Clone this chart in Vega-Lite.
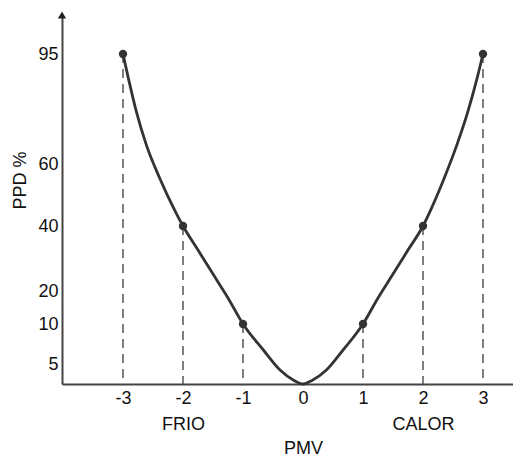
{
  "$schema": "https://vega.github.io/schema/vega-lite/v6.json",
  "width": 451,
  "height": 369,
  "autosize": {"type": "none"},
  "padding": {"left": 62, "top": 15, "right": 0, "bottom": 73},
  "config": {
    "view": {"stroke": null},
    "font": "Liberation Sans",
    "axis": {
      "grid": false,
      "ticks": false,
      "domainColor": "#444",
      "domainWidth": 2,
      "labelFontSize": 18,
      "labelColor": "#111",
      "titleFontSize": 18,
      "titleFontWeight": "normal",
      "titleColor": "#111",
      "labelOverlap": false,
      "labelFlush": false
    }
  },
  "datasets": {
    "curve": [
      {"pmv": -3, "ppd": 95},
      {"pmv": -2.912, "ppd": 87.4},
      {"pmv": -2.775, "ppd": 76.5},
      {"pmv": -2.61, "ppd": 66.0},
      {"pmv": -2.39, "ppd": 55.5},
      {"pmv": -2.123, "ppd": 44.5},
      {"pmv": -2, "ppd": 40},
      {"pmv": -1.75, "ppd": 32.6},
      {"pmv": -1.5, "ppd": 25.2},
      {"pmv": -1.25, "ppd": 17.9},
      {"pmv": -1, "ppd": 10},
      {"pmv": -0.661, "ppd": 6.75},
      {"pmv": -0.383, "ppd": 3.5},
      {"pmv": -0.15, "ppd": 0.9},
      {"pmv": 0, "ppd": 0},
      {"pmv": 0.15, "ppd": 0.9},
      {"pmv": 0.39, "ppd": 3.5},
      {"pmv": 0.668, "ppd": 6.75},
      {"pmv": 1, "ppd": 10},
      {"pmv": 1.25, "ppd": 17.9},
      {"pmv": 1.5, "ppd": 25.2},
      {"pmv": 1.75, "ppd": 32.6},
      {"pmv": 2, "ppd": 40},
      {"pmv": 2.112, "ppd": 44.5},
      {"pmv": 2.355, "ppd": 55.5},
      {"pmv": 2.563, "ppd": 66.0},
      {"pmv": 2.745, "ppd": 76.5},
      {"pmv": 2.903, "ppd": 87.4},
      {"pmv": 3, "ppd": 95}
    ],
    "marks": [
      {"pmv": -3, "ppd": 95},
      {"pmv": -2, "ppd": 40},
      {"pmv": -1, "ppd": 10},
      {"pmv": 1, "ppd": 10},
      {"pmv": 2, "ppd": 40},
      {"pmv": 3, "ppd": 95}
    ]
  },
  "layer": [
    {
      "data": {"name": "marks"},
      "mark": {"type": "rule", "stroke": "#555", "strokeWidth": 1.5, "strokeDash": [9, 6]},
      "encoding": {
        "x": {
          "field": "pmv", "type": "quantitative",
          "scale": {"domain": [-4.0167, 3.5], "nice": false, "zero": false},
          "axis": {
            "values": [-3, -2, -1, 0, 1, 2, 3],
            "title": "PMV",
            "labelExpr": "datum.value == -2 ? ['-2', 'FRIO'] : datum.value == 2 ? ['2', 'CALOR'] : (datum.value < 0 ? '-' : '') + abs(datum.value)",
            "labelLineHeight": 26,
            "labelPadding": 5,
            "titleX": 241,
            "titleY": 64,
            "titleAlign": "center",
            "titleBaseline": "middle"
          }
        },
        "y": {
          "field": "ppd", "type": "quantitative",
          "scale": {"domain": [0, 5, 10, 20, 40, 60, 95, 107.6], "range": [369, 349, 309, 276, 211, 149, 39, 0], "nice": false, "zero": false},
          "axis": {
            "values": [5, 10, 20, 40, 60, 95],
            "title": "PPD %",
            "labelPadding": 4,
            "titleAngle": -90,
            "titleX": -42,
            "titleY": 165,
            "titleAlign": "center",
            "titleBaseline": "middle"
          }
        },
        "y2": {"datum": 0}
      }
    },
    {
      "data": {"name": "curve"},
      "mark": {"type": "line", "interpolate": "monotone", "stroke": "#333", "strokeWidth": 2.8},
      "encoding": {
        "x": {"field": "pmv", "type": "quantitative"},
        "y": {"field": "ppd", "type": "quantitative"}
      }
    },
    {
      "data": {"name": "marks"},
      "mark": {"type": "point", "filled": true, "color": "#333", "size": 70, "opacity": 1},
      "encoding": {
        "x": {"field": "pmv", "type": "quantitative"},
        "y": {"field": "ppd", "type": "quantitative"}
      }
    },
    {
      "data": {"values": [{}]},
      "mark": {"type": "point", "shape": "triangle-up", "filled": true, "color": "#222", "size": 70, "opacity": 1},
      "encoding": {
        "x": {"datum": -4.0167, "type": "quantitative"},
        "y": {"datum": 107.6, "type": "quantitative"}
      }
    }
  ]
}
